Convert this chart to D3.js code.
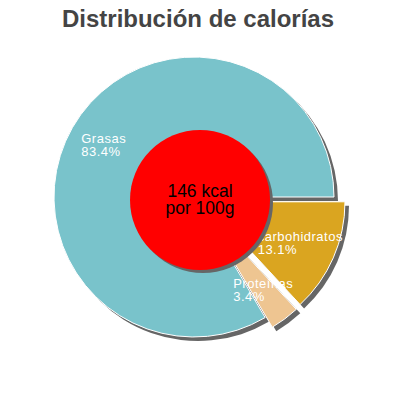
<!DOCTYPE html>
<html>
<head>
<meta charset="utf-8">
<script src="https://cdn.jsdelivr.net/npm/d3@7"></script>
<style>
  body { margin: 0; background: #fff; }
  svg { font-family: "Liberation Sans", Arial, sans-serif; }
</style>
</head>
<body>
<div id="container"></div>
<script>
// values
const nutrients = ['carbohidratos', 'Proteínas', 'Grasas'];
const percents = [13.1, 3.4, 83.4];
const colors = ['#daa520', '#eec591', '#79c3cb'];
const exploded = [true, true, false];
const centerLines = ['146 kcal', 'por 100g'];
const title = 'Distribución de calorías';

function draw() {
  const width = 400, height = 400;
  const cx = 194, cy = 197, radius = 140;

  const svg = d3.select('#container')
    .append('svg')
    .attr('width', width)
    .attr('height', height);

  // title
  svg.append('text')
    .attr('x', 198)
    .attr('y', 27)
    .attr('text-anchor', 'middle')
    .attr('font-size', 24)
    .attr('font-weight', 'bold')
    .attr('fill', '#444')
    .text(title);

  let data = nutrients.map((n, i) => ({name: n, value: percents[i], color: colors[i], out: exploded[i]}));

  // 1. pie layout starting at 3 o'clock
  const pie = d3.pie()
    .sort(null)
    .value(d => d.value)
    .startAngle(Math.PI / 2)
    .endAngle(Math.PI / 2 + 2 * Math.PI);

  const arcs = pie(data);
  const arc = d3.arc().innerRadius(0).outerRadius(radius);
  const labelArc = d3.arc().innerRadius(104).outerRadius(104);

  let offset = d => {
    if (!d.data.out) return [0, 0];
    let mid = (d.startAngle + d.endAngle) / 2;
    return [Math.sin(mid) * 12, -Math.cos(mid) * 12];
  };

  const g = svg.append('g').attr('transform', `translate(${cx},${cy})`);

  // 2. shadows
  g.selectAll('.shadow')
    .data(arcs)
    .enter()
    .append('path')
    .attr('d', arc)
    .attr('fill', '#666')
    .attr('transform', d => `translate(${offset(d)[0] + 4},${offset(d)[1] + 4})`);

  // 3. slices
  g.selectAll('.slice')
    .data(arcs)
    .enter()
    .append('path')
    .attr('d', arc)
    .attr('fill', d => d.data.color)
    .attr('stroke', '#fff')
    .attr('stroke-width', 1)
    .attr('transform', d => `translate(${offset(d)[0]},${offset(d)[1]})`);

  // 4. center circle
  svg.append('circle')
    .attr('cx', 203).attr('cy', 203).attr('r', 70)
    .attr('fill', '#666');
  svg.append('circle')
    .attr('cx', 200).attr('cy', 200).attr('r', 70)
    .attr('fill', '#ff0000');

  const center = svg.append('text')
    .attr('text-anchor', 'middle')
    .attr('font-size', 17.5)
    .attr('fill', '#000');
  centerLines.forEach((t, i) => {
    center.append('tspan').attr('x', 200).attr('y', 197 + i * 17).text(t);
  });

  // 5. labels, block centered on label arc
  arcs.forEach(d => {
    let c = labelArc.centroid(d);
    let o = offset(d);
    let lbl = g.append('text')
      .attr('fill', '#fff')
      .attr('font-size', 13)
      .attr('letter-spacing', 0.5);
    lbl.append('tspan').attr('x', 0).attr('y', 0).text(d.data.name);
    lbl.append('tspan').attr('x', 0).attr('y', 13).text(d.data.value.toFixed(1) + '%');
    let bb = lbl.node().getBBox();
    let tx = c[0] + o[0] - bb.width / 2 - bb.x;
    let ty = c[1] + o[1] - bb.height / 2 - bb.y;
    lbl.attr('transform', `translate(${tx},${ty})`);
  });
}

draw();
</script>
</body>
</html>
